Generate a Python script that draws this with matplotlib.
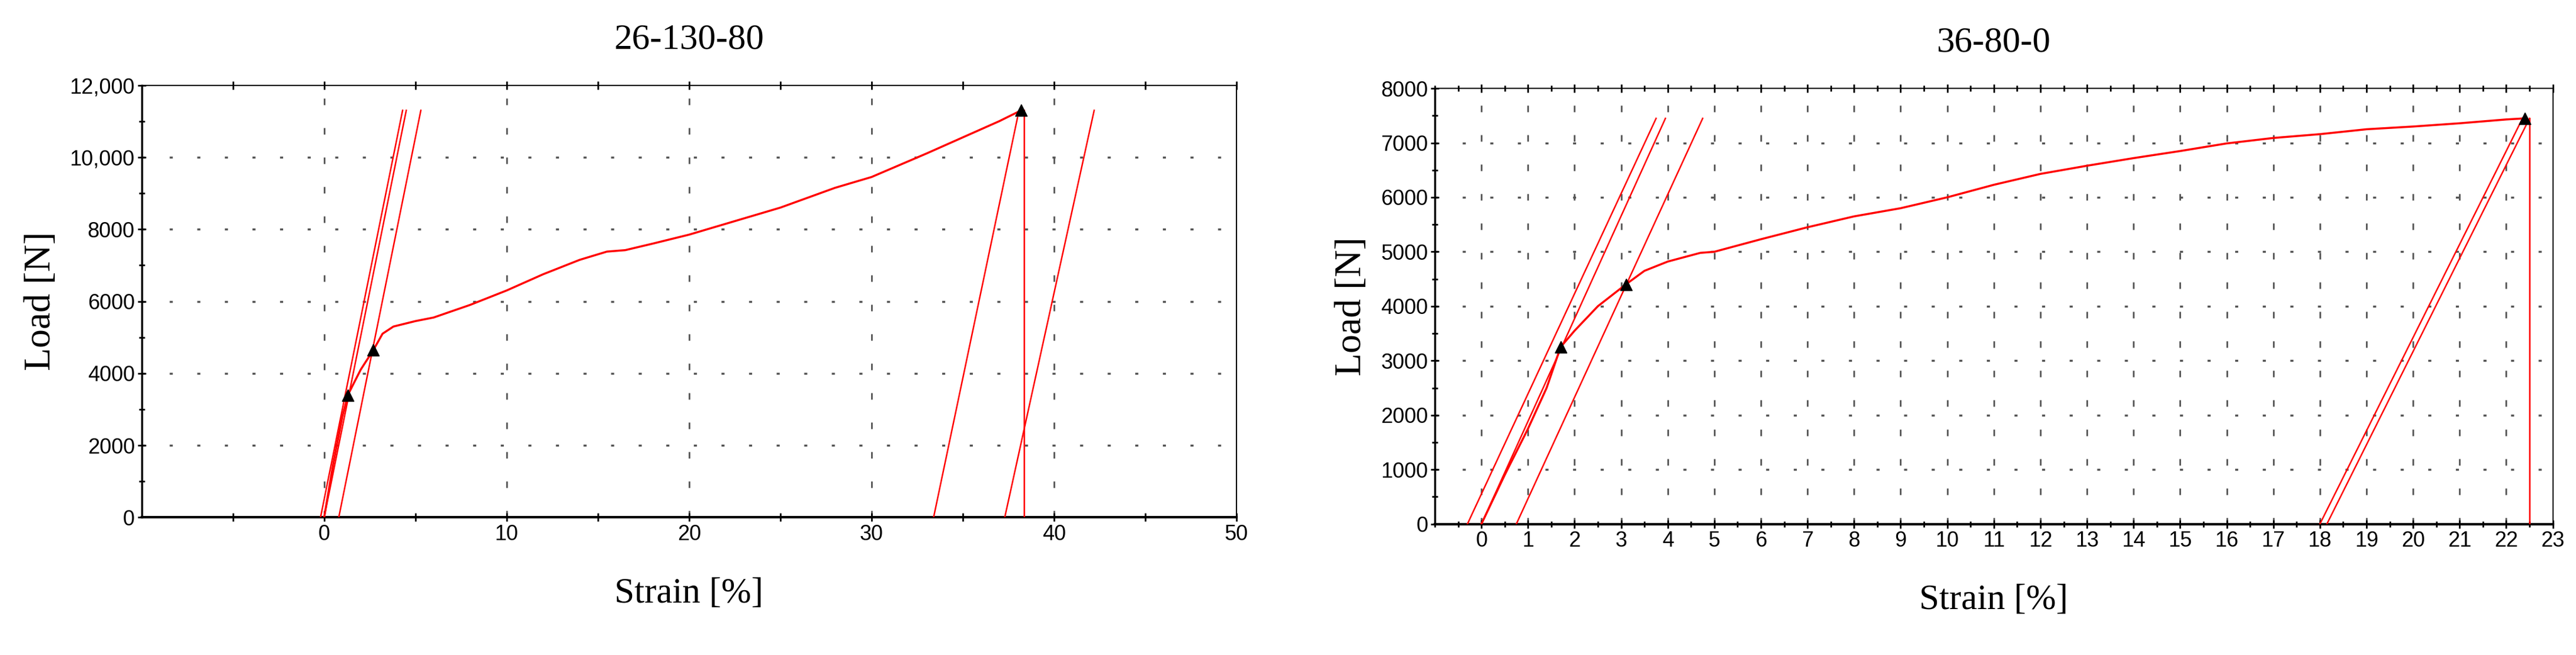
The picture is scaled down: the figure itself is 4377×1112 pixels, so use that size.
import matplotlib
matplotlib.use("Agg")
import matplotlib.pyplot as plt
from matplotlib.ticker import MultipleLocator

# Left chart data
l_x = [0, 0.5, 1.0, 1.3, 2.0, 2.7, 3.2, 3.8, 5, 6, 8, 10, 12, 14, 15.5, 16.5, 18, 20, 22, 25, 28, 30, 33, 35, 37, 38.2]
l_y = [0, 1500, 2800, 3400, 4100, 4650, 5100, 5300, 5450, 5550, 5900, 6300, 6750, 7150, 7380, 7420, 7600, 7850, 8150, 8600, 9150, 9450, 10100, 10550, 11000, 11300]
l_marks_x = [1.3, 2.7, 38.2]
l_marks_y = [3400, 4650, 11300]
l_lines = [((-0.2, 0), (4.3, 11300)), ((0.0, 0), (4.5, 11300)), ((0.8, 0), (5.3, 11300)),
           ((33.4, 0), (38.0, 11100)), ((37.3, 0), (42.2, 11300))]
l_drop_x = 38.35
l_xticks = [0, 10, 20, 30, 40, 50]
l_yticks = [0, 2000, 4000, 6000, 8000, 10000, 12000]
l_ytick_labels = ["0", "2000", "4000", "6000", "8000", "10,000", "12,000"]

# Right chart data
r_x = [0, 0.5, 1.0, 1.4, 1.7, 2.0, 2.5, 2.8, 3.1, 3.5, 4.0, 4.7, 5, 6, 7, 8, 9, 10, 11, 12, 13, 14, 15, 16, 17, 18, 19, 20, 21, 22, 22.4]
r_y = [0, 900, 1750, 2500, 3250, 3550, 4000, 4200, 4400, 4650, 4820, 4980, 5000, 5230, 5450, 5650, 5800, 6000, 6230, 6430, 6580, 6720, 6850, 6990, 7090, 7160, 7250, 7300, 7360, 7430, 7450]
r_marks_x = [1.7, 3.1, 22.4]
r_marks_y = [3250, 4400, 7450]
r_lines = [((-0.3, 0), (3.75, 7450)), ((0.0, 0), (3.95, 7450)), ((0.75, 0), (4.75, 7450)),
           ((18.0, 0), (22.35, 7450)), ((18.15, 0), (22.5, 7450))]
r_drop_x = 22.5
r_xticks = list(range(0, 24))
r_yticks = list(range(0, 8001, 1000))

RED = "#ff0000"
fig = plt.figure(figsize=(43.77, 11.12), dpi=100)
axL = fig.add_axes([0.055, 0.21, 0.425, 0.66])
axR = fig.add_axes([0.557, 0.20, 0.434, 0.665])

def style(ax, title, xlim, ylim, xticks, yticks, ylabels, xminor, yminor, vgrid):
    ax.set_xlim(*xlim); ax.set_ylim(*ylim)
    ax.set_xticks(xticks); ax.set_yticks(yticks)
    ax.set_yticklabels(ylabels if ylabels else [str(v) for v in yticks])
    ax.xaxis.set_minor_locator(MultipleLocator(xminor))
    ax.yaxis.set_minor_locator(MultipleLocator(yminor))
    for t in ax.get_xticklabels() + ax.get_yticklabels():
        t.set_fontfamily("Liberation Sans")
        t.set_fontsize(26)
    ax.tick_params(which="both", direction="inout", length=10, width=2, colors="black", top=True)
    ax.tick_params(which="minor", length=7)
    for s in ax.spines.values():
        s.set_linewidth(1.5)
    ax.spines["bottom"].set_linewidth(3); ax.spines["left"].set_linewidth(2.5)
    for v in vgrid:
        ax.axvline(v, color="#555555", lw=2, ls=(0, (4, 14)), zorder=0)
    for v in yticks[1:-1]:
        ax.axhline(v, color="#555555", lw=2.5, ls=(0, (1.5, 12)), zorder=0)
    ax.set_title(title, fontsize=44, family="Liberation Serif", pad=45)
    ax.set_xlabel("Strain [%]", fontsize=44, family="Liberation Serif", labelpad=40)
    ax.set_ylabel("Load [N]", fontsize=46, family="Liberation Serif", labelpad=14)

style(axL, "26-130-80", (-10, 50), (0, 12000), l_xticks, l_yticks, l_ytick_labels, 5, 1000, l_xticks[:-1])
style(axR, "36-80-0", (-1, 23), (0, 8000), r_xticks, r_yticks, None, 0.5, 500, r_xticks[:-1])
axL.set_xticks([-5, 5, 15, 25, 35, 45], minor=True)
axL.tick_params(axis="x", which="minor", length=10)

for ax, xs, ys, mx, my, lines, dx, top in [
        (axL, l_x, l_y, l_marks_x, l_marks_y, l_lines, l_drop_x, 11300),
        (axR, r_x, r_y, r_marks_x, r_marks_y, r_lines, r_drop_x, 7450)]:
    ax.plot(xs, ys, color=RED, lw=2.5, zorder=3)
    for (a, b) in lines:
        ax.plot([a[0], b[0]], [a[1], b[1]], color=RED, lw=1.8, zorder=3)
    ax.plot([dx, dx], [0, top], color=RED, lw=1.8, zorder=3)
    ax.plot(mx, my, ls="none", marker="^", color="black", ms=14, zorder=4)

fig.savefig("out.png", dpi=100)
